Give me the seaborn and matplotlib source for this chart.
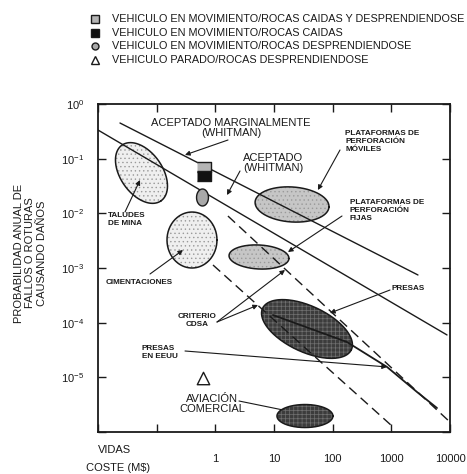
import numpy as np
import pandas as pd
import matplotlib
matplotlib.use("Agg")
import matplotlib.pyplot as plt
import seaborn as sns
from matplotlib.lines import Line2D

# ---------------- data ----------------
legend_labels = [
    "VEHICULO EN MOVIMIENTO/ROCAS CAIDAS Y DESPRENDIENDOSE",
    "VEHICULO EN MOVIMIENTO/ROCAS CAIDAS",
    "VEHICULO EN MOVIMIENTO/ROCAS DESPRENDIENDOSE",
    "VEHICULO PARADO/ROCAS DESPRENDIENDOSE",
]
# rock-fall cases: lives lost, annual probability
point_lives = [0.64, 0.64, 0.60, 0.62]
point_prob = [0.0704, 0.0472, 0.0203, 9.7e-6]

# criterion lines
marginal_x = [0.0237, 2844]
marginal_y = [0.449, 7.45e-4]
accepted_x = [0.01, 8890]
accepted_y = [0.334, 5.96e-5]
cdsa_upper_x = [1.64, 10000]
cdsa_upper_y = [8.93e-3, 1.52e-6]
cdsa_lower_x = [0.912, 1067]
cdsa_lower_y = [1.135e-3, 1.24e-6]
us_dams_x = [9.6, 175, 843, 2735, 6000]
us_dams_y = [1.38e-4, 4.43e-5, 1.55e-5, 5.4e-6, 2.75e-6]

# regions (ellipses): centre (lives, probability), half-extent in decades, tilt
region_names = ["TALUDES DE MINA", "CIMENTACIONES", "PLATAFORMAS MOVILES",
                "PLATAFORMAS FIJAS", "PRESAS", "AVIACION COMERCIAL"]
region_x = [0.0551, 0.40, 20.3, 5.55, 36.5, 33.7]
region_y = [0.0547, 0.00325, 0.01452, 0.00159, 7.66e-5, 1.96e-6]
region_a = [0.58, 0.426, 0.631, 0.511, 0.835, 0.477]
region_b = [0.358, 0.477, 0.298, 0.2045, 0.392, 0.196]
region_angle = [-55, 0, -4, -3, -25, 0]
region_tone = ["light", "light", "mid", "mid", "dark", "dark"]

x_ticks = [0.01, 0.1, 1, 10, 100, 1000, 10000]
x_ticklabels = ["", "", "1", "10", "100", "1000", "10000"]
y_ticks = [1e-6, 1e-5, 1e-4, 1e-3, 1e-2, 1e-1, 1e0]
y_ticklabels = ["", r"$10^{-5}$", r"$10^{-4}$", r"$10^{-3}$", r"$10^{-2}$",
                r"$10^{-1}$", r"$10^{0}$"]

# ---------------- style ----------------
sns.set_style("ticks")
plt.rcParams["font.family"] = ["Liberation Sans", "DejaVu Sans"]
plt.rcParams["mathtext.default"] = "regular"
plt.rcParams["hatch.linewidth"] = 0.5

W, H = 467, 474
fig = plt.figure(figsize=(W / 100, H / 100), dpi=100)
ax = fig.add_axes([98 / W, 1 - 432 / H, 352 / W, 328 / H])
ax.set_xscale("log")
ax.set_yscale("log")
ax.set_xlim(1e-2, 1e4)
ax.set_ylim(1e-6, 1e0)

# ratio of pixels per x-decade to pixels per y-decade
bbox = ax.get_position()
nx_dec = np.log10(1e4 / 1e-2)
ny_dec = np.log10(1e0 / 1e-6)
ratio = (bbox.width * W / nx_dec) / (bbox.height * H / ny_dec)

tones = {
    "light": dict(face="#efefef", hatch="....", hcol="#9a9a9a"),
    "mid": dict(face="#c6c6c6", hatch="....", hcol="#9a9a9a"),
    "dark": dict(face="#3c3c3c", hatch="++++", hcol="#707070"),
}

t = np.linspace(0, 2 * np.pi, 240)
for cx, cy, a, b, ang, tone in zip(region_x, region_y, region_a, region_b,
                                   region_angle, region_tone):
    th = np.radians(ang)
    u, v = a * np.cos(t), b * np.sin(t)
    du = u * np.cos(th) - v * np.sin(th)
    dv = (u * np.sin(th) + v * np.cos(th)) * ratio
    ex = 10 ** (np.log10(cx) + du)
    ey = 10 ** (np.log10(cy) + dv)
    st = tones[tone]
    ax.fill(ex, ey, facecolor=st["face"], edgecolor=st["hcol"], hatch=st["hatch"],
            lw=0, zorder=1)
    ax.plot(ex, ey, color="#1a1a1a", lw=1.1, zorder=3)

line_kw = dict(ax=ax, color="#1a1a1a", estimator=None, sort=False, legend=False)
sns.lineplot(x=marginal_x, y=marginal_y, lw=1.0, zorder=2, **line_kw)
sns.lineplot(x=accepted_x, y=accepted_y, lw=1.0, zorder=2, **line_kw)
sns.lineplot(x=cdsa_upper_x, y=cdsa_upper_y, lw=1.0, dashes=False, zorder=2, **line_kw)
sns.lineplot(x=cdsa_lower_x, y=cdsa_lower_y, lw=1.0, zorder=2, **line_kw)
ax.lines[-1].set_dashes([7, 4])
ax.lines[-2].set_dashes([7, 4])
sns.lineplot(x=us_dams_x, y=us_dams_y, lw=1.3, zorder=2, **line_kw)

# rock-fall case markers
rect = [(-0.7, -0.5), (0.7, -0.5), (0.7, 0.5), (-0.7, 0.5)]
oval = [(0.7 * np.cos(s), np.sin(s)) for s in np.linspace(0, 2 * np.pi, 40)]
point_marker = [rect, rect, oval, "^"]
point_face = ["#b4b4b4", "#111111", "#a8a8a8", "white"]
point_size = [100, 100, 150, 80]
for i in range(4):
    sns.scatterplot(x=[point_lives[i]], y=[point_prob[i]], ax=ax, marker=point_marker[i],
                    s=point_size[i], color=point_face[i], edgecolor="#1a1a1a",
                    linewidth=1.0, zorder=4, legend=False)

# ---------------- axes ----------------
for sp in ax.spines.values():
    sp.set_linewidth(1.3)
    sp.set_color("#1a1a1a")
ax.set_xticks(x_ticks)
ax.set_xticklabels(x_ticklabels)
ax.set_yticks(y_ticks)
ax.set_yticklabels(y_ticklabels)
ax.minorticks_off()
ax.tick_params(which="major", direction="in", length=5.8, width=1.0, top=True,
               right=True, labelsize=8, colors="#1a1a1a")
ax.tick_params(axis="y", pad=10)
ax.tick_params(axis="x", pad=16)

# ---------------- annotations ----------------
def T(px, py):
    return ((px - 98) / 352, 1 - (py - 104) / 328)

big = dict(fontsize=8, color="#1a1a1a", transform=ax.transAxes)
small = dict(fontsize=5.9, fontweight="bold", color="#1a1a1a", transform=ax.transAxes,
             linespacing=1.2)
arrow = dict(arrowstyle="-|>", color="#1a1a1a", lw=0.8, mutation_scale=7,
             shrinkA=0, shrinkB=0)

ax.text(*T(231, 128), "ACEPTADO MARGINALMENTE\n(WHITMAN)", ha="center", va="center",
        linespacing=1.0, **big)
ax.annotate("", xy=(0.304, 0.117), xytext=T(228, 140), textcoords="axes fraction",
            arrowprops=arrow)
ax.text(*T(273, 163), "ACEPTADO\n(WHITMAN)", ha="center", va="center",
        linespacing=1.0, **big)
ax.annotate("", xy=(1.58, 0.0216), xytext=T(240, 171), textcoords="axes fraction",
            arrowprops=arrow)

ax.text(*T(345, 130), "PLATAFORMAS DE\nPERFORACIÓN\nMÓVILES", ha="left", va="top", **small)
ax.annotate("", xy=(56, 0.0267), xytext=T(340, 150), textcoords="axes fraction",
            arrowprops=arrow)
ax.text(*T(350, 199), "PLATAFORMAS DE\nPERFORACIÓN\nFIJAS", ha="left", va="top", **small)
ax.annotate("", xy=(17.3, 0.00196), xytext=T(342, 216), textcoords="axes fraction",
            arrowprops=arrow)
ax.text(*T(108, 212), "TALUDES\nDE MINA", ha="left", va="top", **small)
ax.annotate("", xy=(0.052, 0.0407), xytext=T(125, 212), textcoords="axes fraction",
            arrowprops=arrow)
ax.text(*T(106, 283), "CIMENTACIONES", ha="left", va="center", **small)
ax.annotate("", xy=(0.281, 0.00213), xytext=T(150, 274), textcoords="axes fraction",
            arrowprops=arrow)
ax.text(*T(197, 320), "CRITERIO\nCDSA", ha="center", va="center", **small)
ax.annotate("", xy=(5.33, 2.1e-4), xytext=T(217, 322), textcoords="axes fraction",
            arrowprops=arrow)
ax.annotate("", xy=(15.4, 9.2e-4), xytext=T(217, 322), textcoords="axes fraction",
            arrowprops=arrow)
ax.text(*T(392, 289), "PRESAS", ha="left", va="center", **small)
ax.annotate("", xy=(90, 1.5e-4), xytext=T(390, 290), textcoords="axes fraction",
            arrowprops=arrow)
ax.text(*T(142, 353), "PRESAS\nEN EEUU", ha="left", va="center", **small)
ax.annotate("", xy=(843, 1.55e-5), xytext=T(185, 351), textcoords="axes fraction",
            arrowprops=arrow)
ax.text(*T(212, 404), "AVIACIÓN\nCOMERCIAL", ha="center", va="center",
        linespacing=1.0, **big)
ax.annotate("", xy=(14.2, 2.53e-6), xytext=T(239, 401), textcoords="axes fraction",
            arrowprops=dict(arrowstyle="-", color="#1a1a1a", lw=0.8, shrinkA=0, shrinkB=0))

# axis titles
fig.text(115 / W, 1 - 450 / H, "VIDAS", ha="center", va="center", fontsize=8, color="#1a1a1a")
fig.text(118 / W, 1 - 468 / H, "COSTE (M$)", ha="center", va="center", fontsize=8,
         color="#1a1a1a")
ylab_lines = ["PROBABILIDAD ANUAL DE", "FALLOS O ROTURAS", "CAUSANDO DAÑOS"]
for i, s in enumerate(ylab_lines):
    fig.text((19 + 11.5 * i) / W, 1 - 253 / H, s, rotation=90, ha="center", va="center",
             fontsize=8, color="#1a1a1a")

# legend of rock-fall cases
leg_rows = [19, 33, 46, 60]
leg_marker = ["s", "s", "o", "^"]
leg_face = ["#b4b4b4", "#111111", "#a8a8a8", "white"]
leg_size = [6, 6, 5, 6]
for i, lab in enumerate(legend_labels):
    y = 1 - leg_rows[i] / H
    fig.add_artist(Line2D([95 / W], [y], transform=fig.transFigure, marker=leg_marker[i],
                          markersize=leg_size[i], markerfacecolor=leg_face[i],
                          markeredgecolor="#1a1a1a", markeredgewidth=1.0, ls="none"))
    fig.text(112 / W, y, lab, ha="left", va="center", fontsize=7.8, color="#1a1a1a")

fig.savefig("out.png", dpi=100)
